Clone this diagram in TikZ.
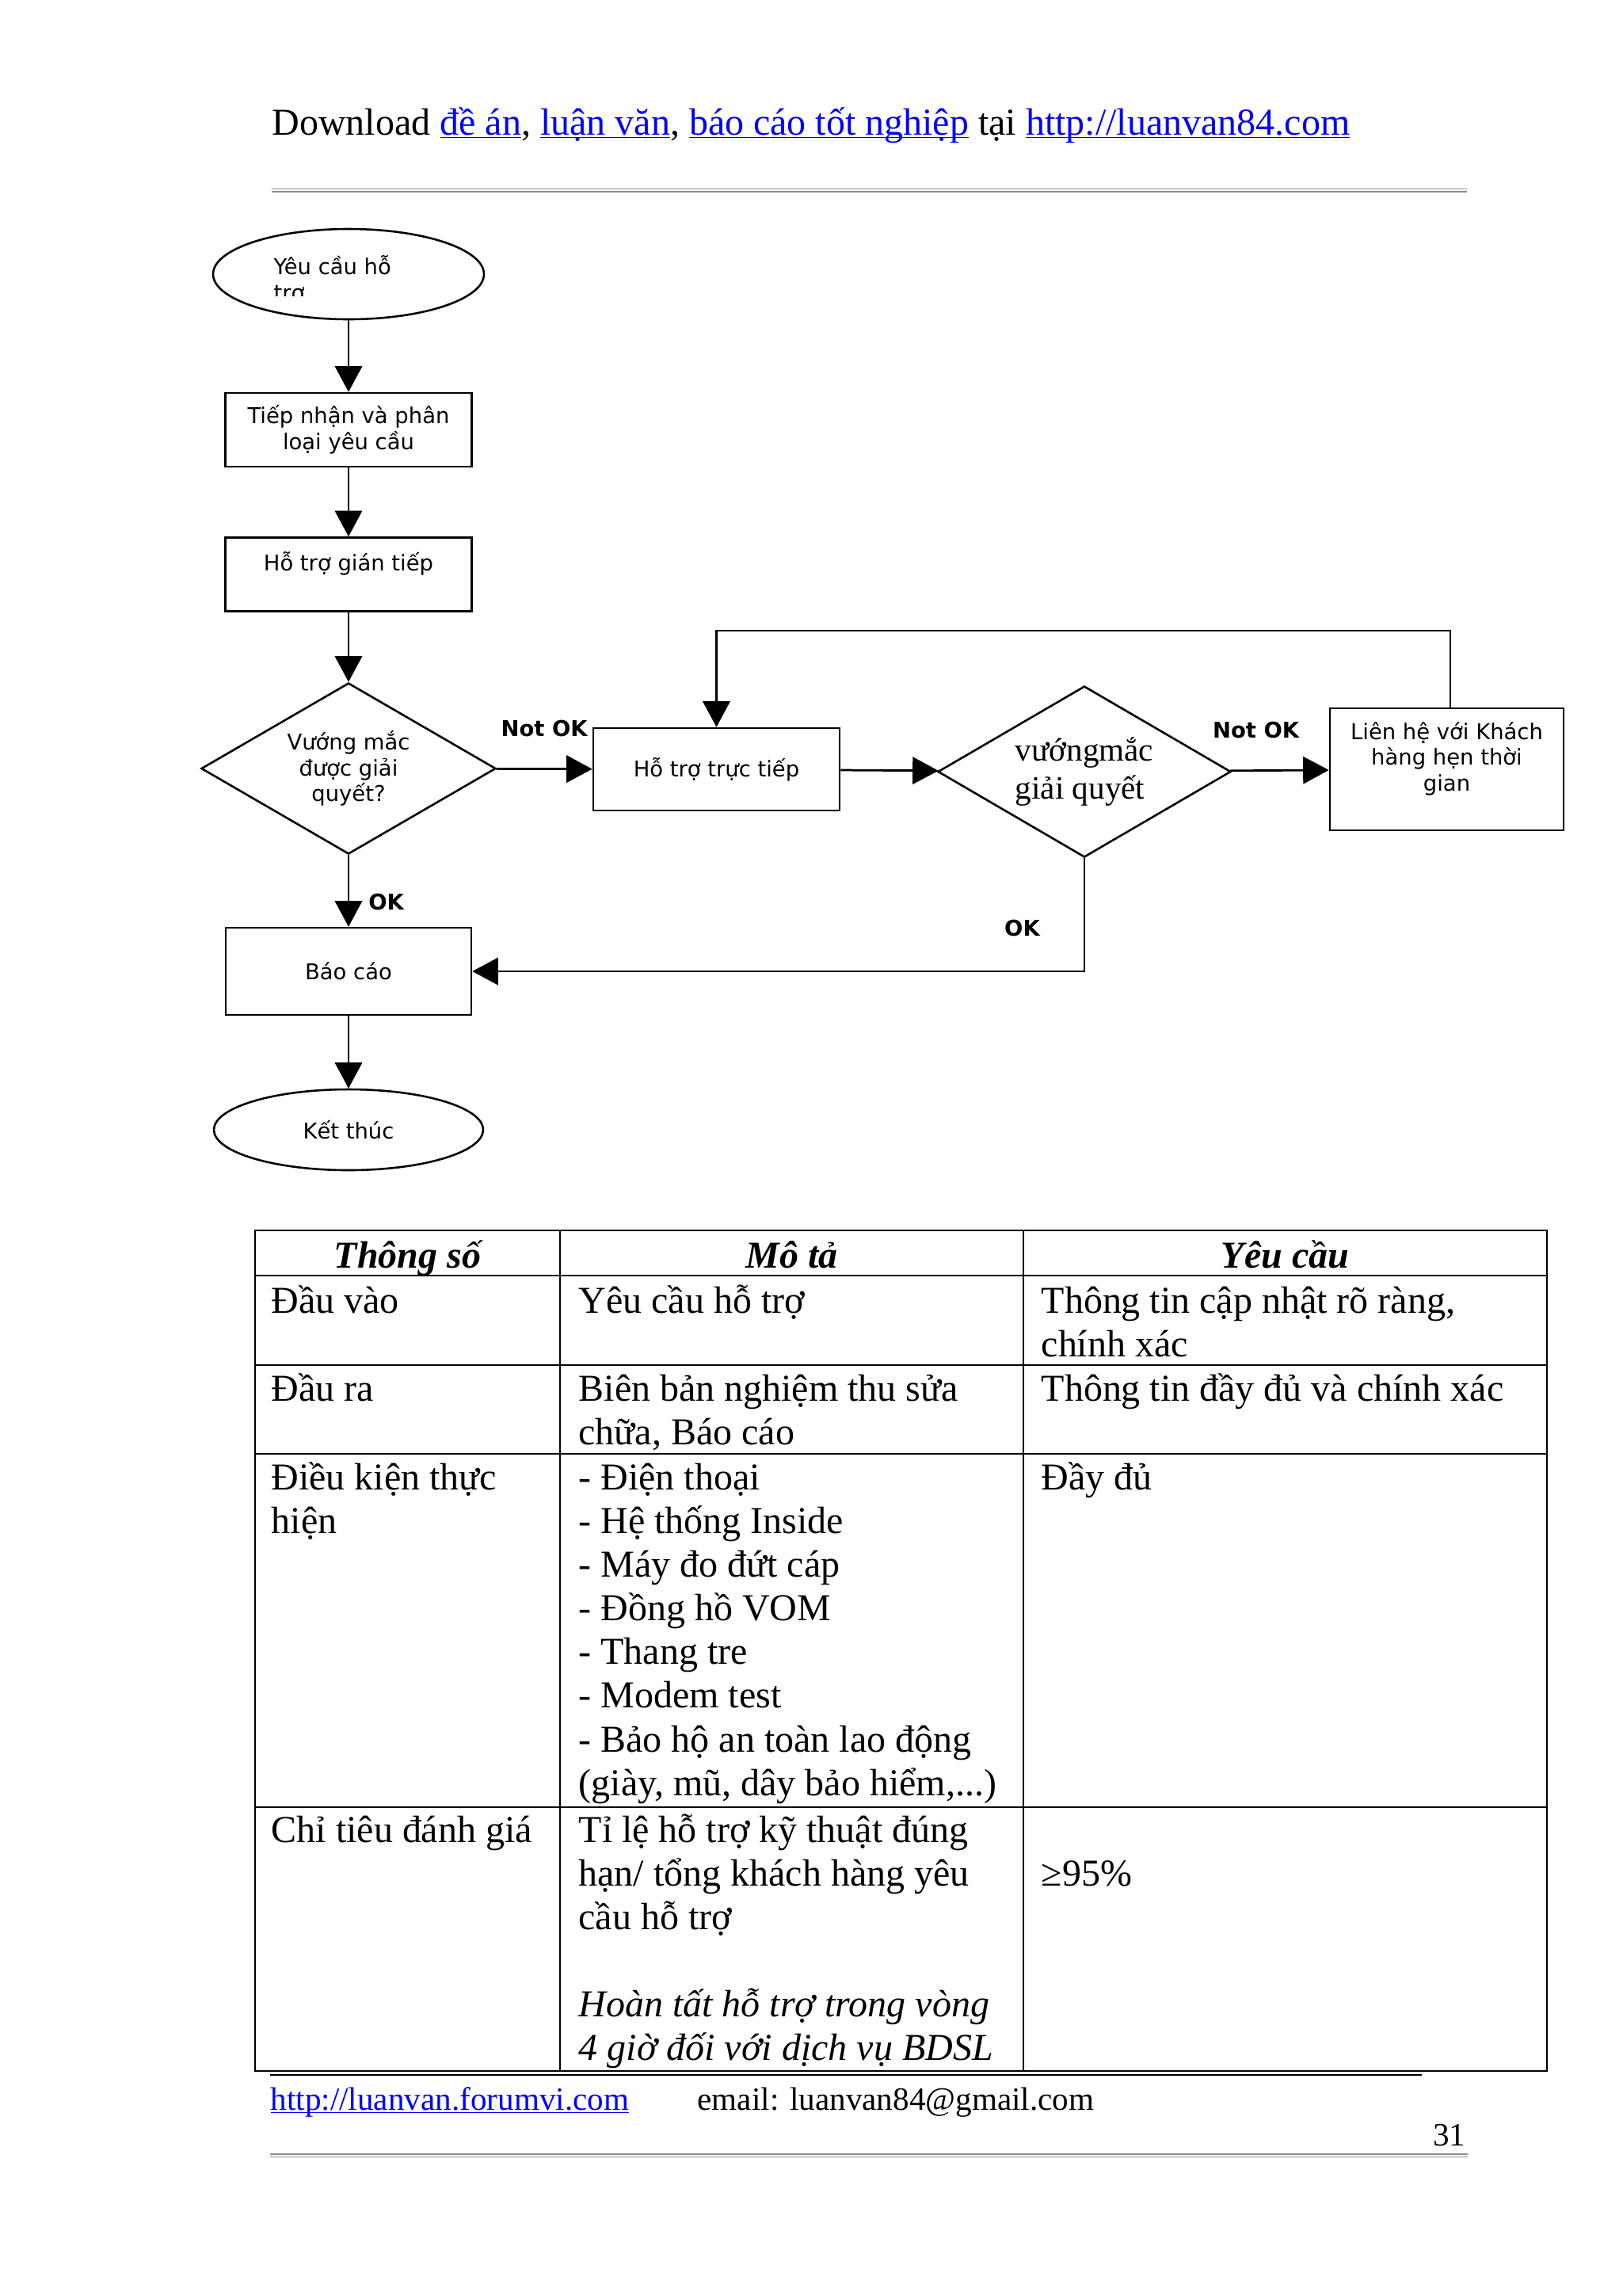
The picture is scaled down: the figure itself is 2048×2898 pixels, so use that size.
\documentclass[tikz,border=0pt]{standalone}
\usepackage{fontspec}
\setmainfont{Liberation Serif}
\newfontfamily\chartfont{DejaVu Sans}
\usetikzlibrary{shapes.geometric,arrows.meta}
\definecolor{linkblue}{RGB}{0,0,255}
\definecolor{rulegray}{RGB}{140,140,140}
\newlength\pxu
\setlength\pxu{0.010254cm}
\newsavebox\linkbox
\newcommand\weblink[1]{{\color{linkblue}\sbox\linkbox{#1}\rlap{\rule[-1.3pt]{\wd\linkbox}{0.5pt}}\usebox\linkbox}}
\newcommand\stack[1]{\begin{tabular}[t]{@{}l@{}}#1\end{tabular}}
\tikzset{
  chart/.style={font=\chartfont\fontsize{8}{9.5}\selectfont},
  box/.style={chart, draw, line width=0.75pt, rectangle, inner sep=0pt, align=center, minimum width=311*\pxu},
  oval/.style={chart, draw, line width=0.75pt, ellipse, inner sep=0pt, align=center},
  decision/.style={draw, line width=0.75pt, diamond, aspect=1.72, inner sep=0pt, align=center},
  flow/.style={line width=0.8pt, -{Triangle[width=10pt,length=9.5pt]}},
  tag/.style={font=\chartfont\bfseries\fontsize{8}{9.5}\selectfont, inner sep=0pt},
  cell/.style={anchor=base west, inner sep=0pt, font=\fontsize{14}{16.1}\selectfont},
  head/.style={anchor=base, inner sep=0pt, font=\bfseries\itshape\fontsize{14}{16.1}\selectfont},
  grid/.style={line width=0.6pt},
  page/.style={anchor=base west, inner sep=0pt},
}
\begin{document}
\begin{tikzpicture}[x=0.010254cm, y=-0.010254cm]
  \useasboundingbox (0,0) rectangle (2048,2898);
  \node[page, font=\fontsize{14}{16}\selectfont] (header) at (343,170)
    {Download \weblink{đề án}, \weblink{luận văn}, \weblink{báo cáo tốt nghiệp} tại \weblink{http://luanvan84.com}};
  \draw[rulegray, line width=0.45pt] (343,238.5) -- (1852,238.5) (343,241.8) -- (1852,241.8);

  \node[oval, minimum width=342*\pxu, minimum height=114*\pxu] (start) at (440,346) {};
  \begin{scope}
    \clip (330,300) rectangle (600,373.5);
    \node[chart, anchor=base west, inner sep=0pt] (startlabel) at (345,346.5) {\stack{Yêu cầu hỗ\\trợ}};
  \end{scope}
  \node[box, minimum height=93*\pxu] (receive) at (440,542.5) {Tiếp nhận và phân\\loại yêu cầu};
  \node[box, minimum height=93*\pxu] (indirect) at (440,725) {Hỗ trợ gián tiếp\\\mbox{}};
  \node[decision, chart, minimum width=372*\pxu, minimum height=216*\pxu] (check1) at (440,970) {Vướng mắc\\được giải\\quyết?};
  \node[box, minimum height=104*\pxu] (direct) at (904.5,971) {Hỗ trợ trực tiếp};
  \node[decision, align=left, font=\fontsize{12}{14}\selectfont, minimum width=370*\pxu, minimum height=216*\pxu] (check2) at (1369,974) {vướngmắc\\giải quyết};
  \node[box, minimum width=295*\pxu, minimum height=154*\pxu] (contact) at (1826.5,971) {Liên hệ với Khách\\hàng hẹn thời\\gian\\\mbox{}};
  \node[box, minimum width=310*\pxu, minimum height=110*\pxu] (report) at (440,1226) {Báo cáo};
  \node[oval, minimum width=340*\pxu, minimum height=102*\pxu] (finish) at (440,1426) {Kết thúc};
  \coordinate (toprail) at (0,796);

  \draw[flow] (start) -- (receive);
  \draw[flow] (receive) -- (indirect);
  \draw[flow] (indirect) -- (check1);
  \draw[flow] (check1) -- node[tag, above=11.5pt] (notok1) {Not OK} (direct);
  \draw[flow] (direct) -- (check2);
  \draw[flow] (check2) -- node[tag, above=11.5pt, pos=0.26] (notok2) {Not OK} (contact);
  \draw[flow] ([xshift=4.5*\pxu]contact.north) -- ([xshift=4.5*\pxu]contact.north |- toprail) -| (direct);
  \draw[flow] (check1) -- node[tag, right=7pt, pos=0.65] (ok1) {OK} (report);
  \draw[flow] (check2) |- node[tag, left=16pt, pos=0.31] (ok2) {OK} (report);
  \draw[flow] (report) -- (finish);

  \draw[grid] (322,1553) rectangle (1953,2614);
  \foreach \y in {1610,1723,1835,2281}
    \draw[grid] (322,\y) -- (1953,\y);
  \foreach \x in {707,1292}
    \draw[grid] (\x,1553) -- (\x,2614);

  \node[head] (h1) at (514.5,1600) {Thông số};
  \node[head] (h2) at (999.5,1600) {Mô tả};
  \node[head] (h3) at (1622.5,1600) {Yêu cầu};

  \node[cell] (r1c1) at (342,1657) {Đầu vào};
  \node[cell] (r1c2) at (730,1657) {Yêu cầu hỗ trợ};
  \node[cell] (r1c3) at (1314,1657) {\stack{Thông tin cập nhật rõ ràng,\\chính xác}};

  \node[cell] (r2c1) at (342,1768) {Đầu ra};
  \node[cell] (r2c2) at (730,1768) {\stack{Biên bản nghiệm thu sửa\\chữa, Báo cáo}};
  \node[cell] (r2c3) at (1314,1768) {Thông tin đầy đủ và chính xác};

  \node[cell] (r3c1) at (342,1880) {\stack{Điều kiện thực\\hiện}};
  \node[cell] (r3c2) at (730,1880) {\stack{- Điện thoại\\- Hệ thống Inside\\- Máy đo đứt cáp\\- Đồng hồ VOM\\- Thang tre\\- Modem test\\- Bảo hộ an toàn lao động\\(giày, mũ, dây bảo hiểm,...)}};
  \node[cell] (r3c3) at (1314,1880) {Đầy đủ};

  \node[cell] (r4c1) at (342,2325) {Chỉ tiêu đánh giá};
  \node[cell] (r4c2) at (730,2325) {\stack{Tỉ lệ hỗ trợ kỹ thuật đúng\\hạn/ tổng khách hàng yêu\\cầu hỗ trợ\\ \\\textit{Hoàn tất hỗ trợ trong vòng}\\\textit{4 giờ đối với dịch vụ BDSL}}};
  \node[cell] (r4c3) at (1314,2380) {≥95\%};

  \draw[line width=0.5pt] (341,2619) -- (1795,2619);
  \node[page, font=\fontsize{12}{14}\selectfont] (site) at (341,2663) {\weblink{http://luanvan.forumvi.com}};
  \node[page, font=\fontsize{12}{14}\selectfont] (email) at (880,2663) {email: luanvan84@gmail.com};
  \node[page, anchor=base east, font=\fontsize{12}{14}\selectfont] (pagenum) at (1851,2708) {31};
  \draw[rulegray, line width=0.45pt] (341,2719) -- (1853,2719) (341,2722.5) -- (1853,2722.5);
\end{tikzpicture}
\end{document}
